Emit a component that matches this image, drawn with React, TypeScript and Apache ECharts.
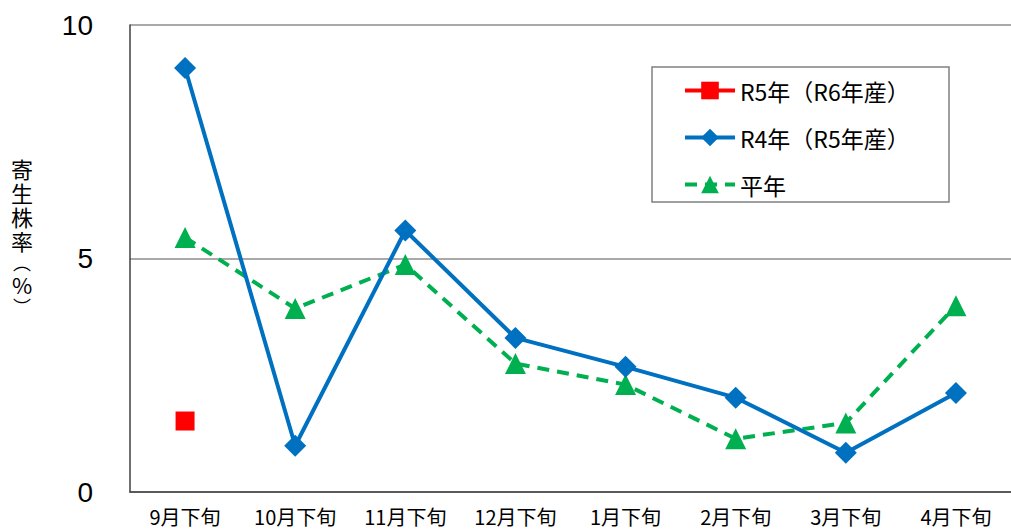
import React, { useEffect, useRef } from "react";
import * as echarts from "echarts";

const categories = ["9月下旬", "10月下旬", "11月下旬", "12月下旬", "1月下旬", "2月下旬", "3月下旬", "4月下旬"];
const seriesNames = ["R5年（R6年産）", "R4年（R5年産）", "平年"];
const r5Values: (number | null)[] = [1.52, null, null, null, null, null, null, null];
const r4Values = [9.08, 0.99, 5.6, 3.3, 2.68, 2.02, 0.84, 2.12];
const avgValues = [5.45, 3.93, 4.87, 2.75, 2.3, 1.14, 1.48, 3.99];
const yTicks = { min: 0, max: 10, interval: 5 };
const yNameText = "{a|寄}\n{a|生}\n{a|株}\n{a|率}\n{p|︵}\n{a|%}\n{p|︶}";

const JP = "'Noto Sans CJK JP', 'Noto Sans', sans-serif";

export default function App() {
  const ref = useRef<HTMLDivElement>(null);
  useEffect(() => {
    if (!ref.current) return;
    const chart = echarts.init(ref.current, null, { renderer: "svg" });
    chart.setOption({
      animation: false,
      backgroundColor: "#fff",
      grid: { left: 130, top: 25, width: 904, height: 467, containLabel: false },
      legend: {
        orient: "vertical",
        left: 683,
        top: 79,
        padding: 0,
        itemWidth: 50,
        itemHeight: 22,
        itemGap: 24,
        data: seriesNames,
        lineStyle: { width: 4 },
        textStyle: { fontSize: 23, color: "#000", fontFamily: JP },
      },
      graphic: [
        {
          type: "rect",
          shape: { x: 652, y: 67, width: 297, height: 135 },
          style: { fill: "none", stroke: "#808080", lineWidth: 1.5 },
          z: 10,
        },
        {
          type: "text",
          x: 22,
          y: 156,
          style: {
            text: yNameText,
            fill: "#000",
            textAlign: "center",
            textVerticalAlign: "top",
            rich: {
              a: { fontSize: 22, lineHeight: 24, fontFamily: JP, fill: "#000", color: "#000" },
              p: { fontSize: 18, lineHeight: 20, fontFamily: JP, fill: "#000", color: "#000" },
            },
          },
        },
      ],
      xAxis: {
        type: "category",
        data: categories,
        boundaryGap: true,
        axisTick: { show: false },
        axisLine: { lineStyle: { color: "#404040", width: 1.5 } },
        axisLabel: { interval: 0, fontSize: 20, color: "#000", margin: 14, fontFamily: JP },
      },
      yAxis: {
        type: "value",
        min: yTicks.min,
        max: yTicks.max,
        interval: yTicks.interval,
        axisLine: { show: true, lineStyle: { color: "#404040", width: 1.5 } },
        axisTick: { show: false },
        splitLine: { lineStyle: { color: "#8c8c8c", width: 1.5 } },
        axisLabel: { fontSize: 28, color: "#000", margin: 37, fontFamily: "'Liberation Sans', Arial, sans-serif" },
      },
      series: [
        {
          name: seriesNames[0],
          type: "line",
          data: r5Values,
          symbol: "rect",
          symbolSize: 19,
          itemStyle: { color: "#FF0000" },
          lineStyle: { color: "#FF0000", width: 4 },
          z: 3,
        },
        {
          name: seriesNames[1],
          type: "line",
          data: r4Values,
          symbol: "diamond",
          symbolSize: 22,
          itemStyle: { color: "#0070C0" },
          lineStyle: { color: "#0070C0", width: 4 },
          z: 2,
        },
        {
          name: seriesNames[2],
          type: "line",
          data: avgValues,
          symbol: "triangle",
          symbolSize: 21,
          itemStyle: { color: "#00B050" },
          lineStyle: { color: "#00B050", width: 4, type: [12, 8] },
          z: 1,
        },
      ],
    });
    return () => chart.dispose();
  }, []);
  return (
    <div
      ref={ref}
      style={{ position: "absolute", left: 0, top: 0, width: 1011, height: 529, overflow: "hidden" }}
    />
  );
}
